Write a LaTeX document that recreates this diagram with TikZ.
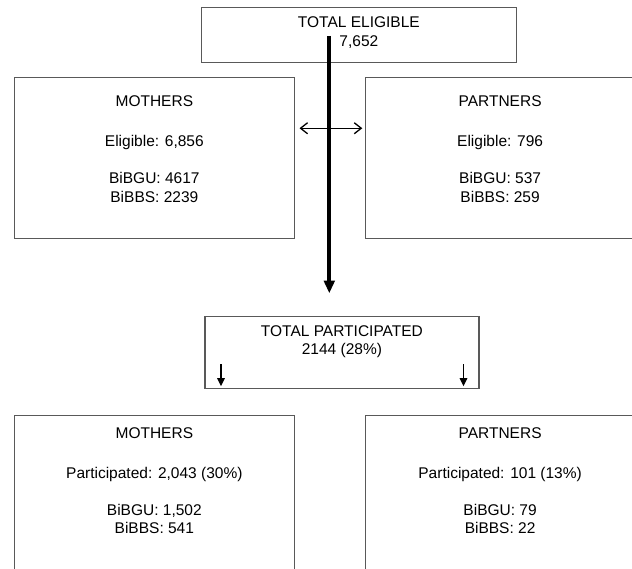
\documentclass[tikz,border=0pt]{standalone}
\usepackage{fontspec}
\setmainfont{Liberation Sans}
\usetikzlibrary{arrows.meta}
\tikzset{
  box/.style={draw=black!65, line width=1.2bp, inner sep=0pt, anchor=north west},
  boxText/.style={anchor=north, inner sep=0pt, align=center, font=\fontsize{15.5bp}{18.6bp}\selectfont},
  mainArrow/.style={line width=3.7bp, -{Triangle[length=12.6bp,width=10.5bp]}},
  smallArrow/.style={line width=1.4bp, -{Triangle[length=8bp,width=7.5bp]}},
  openArrow/.style={line width=1.3bp, {Straight Barb[length=7bp,width=11bp]}-{Straight Barb[length=7bp,width=11bp]}}
}
\begin{document}
\begin{tikzpicture}[x=1bp,y=1bp]
        \useasboundingbox (0,0) rectangle (632,-569);
        \pgfmathsetmacro{\sideWidth}{280.5}
        \node[box, minimum width=315.5bp, minimum height=55bp] (eligible) at (200.5,-7) {};
        \node[boxText] (eligibleText) at ([yshift=-9.7bp]eligible.north) {TOTAL ELIGIBLE\\7,652};
        \node[box, minimum width=\sideWidth bp, minimum height=160.7bp] (mothersElig) at (13.5,-77.3) {};
        \node[box, minimum width=269bp, minimum height=160.7bp] (partnersElig) at (365,-77.3) {};
        \node[boxText] at ([yshift=-18.5bp]mothersElig.north) {MOTHERS\\[21.4bp]Eligible: 6,856\\[18.4bp]BiBGU: 4617\\BiBBS: 2239};
        \node[boxText] at ([yshift=-18.5bp]partnersElig.north) {PARTNERS\\[21.4bp]Eligible: 796\\[18.4bp]BiBGU: 537\\BiBBS: 259};
        \node[box, minimum width=274bp, minimum height=72.3bp] (participated) at (204.3,-315.7) {};
        \node[boxText] at ([yshift=-9.3bp]participated.north) {TOTAL PARTICIPATED\\2144 (28\%)};
        \node[box, minimum width=\sideWidth bp, minimum height=170bp] (mothersPart) at (13.5,-415) {};
        \node[box, minimum width=269bp, minimum height=170bp] (partnersPart) at (365,-415) {};
        \node[boxText] at ([yshift=-12bp]mothersPart.north) {MOTHERS\\[21.4bp]Participated: 2,043 (30\%)\\[18.4bp]BiBGU: 1,502\\BiBBS: 541};
        \node[boxText] at ([yshift=-12bp]partnersPart.north) {PARTNERS\\[21.4bp]Participated: 101 (13\%)\\[18.4bp]BiBGU: 79\\BiBBS: 22};
        \coordinate (stemTop) at (329.3,-36);
        \draw[mainArrow, shorten >=22.4bp] (stemTop) -- (stemTop |- participated.north);
        \draw[openArrow] ([xshift=4.3bp,yshift=30bp]mothersElig.east) -- ([xshift=-2.7bp,yshift=30bp]partnersElig.west);
        \draw[smallArrow] ([xshift=16.7bp,yshift=25bp]participated.south west) -- ([xshift=16.7bp,yshift=3bp]participated.south west);
        \draw[smallArrow] ([xshift=-16bp,yshift=25bp]participated.south east) -- ([xshift=-16bp,yshift=3bp]participated.south east);
      \end{tikzpicture}
\end{document}
